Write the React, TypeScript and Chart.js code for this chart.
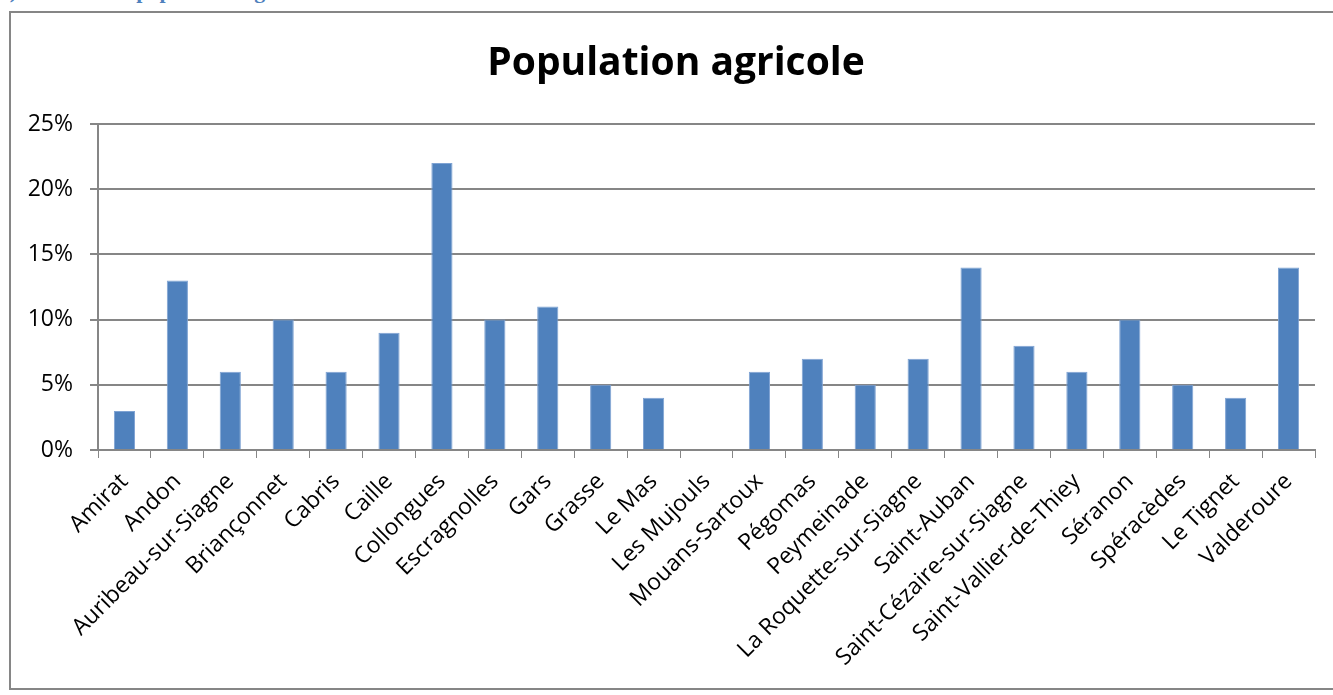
import React, { useEffect, useRef } from "react";
import { Chart, registerables } from "chart.js";

Chart.register(...registerables);

const communes = [
  "Amirat",
  "Andon",
  "Auribeau-sur-Siagne",
  "Briançonnet",
  "Cabris",
  "Caille",
  "Collongues",
  "Escragnolles",
  "Gars",
  "Grasse",
  "Le Mas",
  "Les Mujouls",
  "Mouans-Sartoux",
  "Pégomas",
  "Peymeinade",
  "La Roquette-sur-Siagne",
  "Saint-Auban",
  "Saint-Cézaire-sur-Siagne",
  "Saint-Vallier-de-Thiey",
  "Séranon",
  "Spéracèdes",
  "Le Tignet",
  "Valderoure",
];

const populationAgricole = [3, 13, 6, 10, 6, 9, 22, 10, 11, 5, 4, 0, 6, 7, 5, 7, 14, 8, 6, 10, 5, 4, 14];

const chartTitle = "Population agricole";
const headingText = "c)    Part de la population agricole";

const centeredTitle = {
  id: "centeredTitle",
  afterDraw(chart: any) {
    const ctx = chart.ctx;
    ctx.save();
    ctx.font = "bold 39px 'Open Sans', sans-serif";
    ctx.fillStyle = "#000000";
    ctx.textAlign = "center";
    ctx.textBaseline = "middle";
    ctx.fillText(chartTitle, 665, 51);
    ctx.restore();
  },
};

export default function App() {
  const ref = useRef<HTMLCanvasElement | null>(null);

  useEffect(() => {
    if (!ref.current) return;
    const chart = new Chart(ref.current, {
      type: "bar",
      data: {
        labels: communes,
        datasets: [
          {
            data: populationAgricole,
            backgroundColor: "#4F81BD",
            borderColor: "#7FA3D3",
            borderWidth: 1,
            categoryPercentage: 1,
            barPercentage: 0.4,
          },
        ],
      },
      plugins: [centeredTitle],
      options: {
        animation: false,
        responsive: false,
        maintainAspectRatio: false,
        layout: { padding: { left: 0, right: 18, top: 111, bottom: 0 } },
        plugins: {
          legend: { display: false },
          tooltip: { enabled: false },
          title: { display: false },
        },
        scales: {
          x: {
            grid: {
              display: true,
              drawOnChartArea: false,
              drawTicks: true,
              tickLength: 8,
              color: "#868686",
              offset: true,
            },
            border: { display: true, color: "#868686", width: 2 },
            ticks: {
              color: "#000000",
              font: { family: "'Open Sans', sans-serif", size: 23 },
              minRotation: 45,
              maxRotation: 45,
              autoSkip: false,
              padding: 10,
            },
            afterFit: (scale: any) => {
              scale.height = 238;
            },
          },
          y: {
            min: 0,
            max: 25,
            ticks: {
              stepSize: 5,
              color: "#000000",
              font: { family: "'Open Sans', sans-serif", size: 23 },
              padding: 17,
              callback: (v: any) => v + "%",
            },
            grid: { color: "#868686", lineWidth: 2, tickLength: 8 },
            border: { display: true, color: "#868686", width: 2 },
            afterFit: (scale: any) => {
              scale.width = 87;
            },
          },
        },
      },
    });
    return () => chart.destroy();
  }, []);

  return (
    <div style={{ position: "fixed", left: 0, top: 0, width: 1333, height: 695, overflow: "hidden", background: "#fff" }}>
      <div
        style={{
          position: "absolute",
          left: 0,
          top: -20,
          fontFamily: "'Liberation Serif', serif",
          fontWeight: "bold",
          fontSize: 22,
          color: "#4F81BD",
          whiteSpace: "pre",
          lineHeight: "22px",
        }}
      >
        {headingText}
      </div>
      <div
        style={{
          position: "absolute",
          left: 9,
          top: 11,
          width: 1340,
          height: 679,
          border: "2px solid #868686",
          boxSizing: "border-box",
        }}
      >
        <canvas ref={ref} width={1322} height={675} style={{ position: "absolute", left: 0, top: 0, width: 1322, height: 675 }} />
      </div>
    </div>
  );
}
